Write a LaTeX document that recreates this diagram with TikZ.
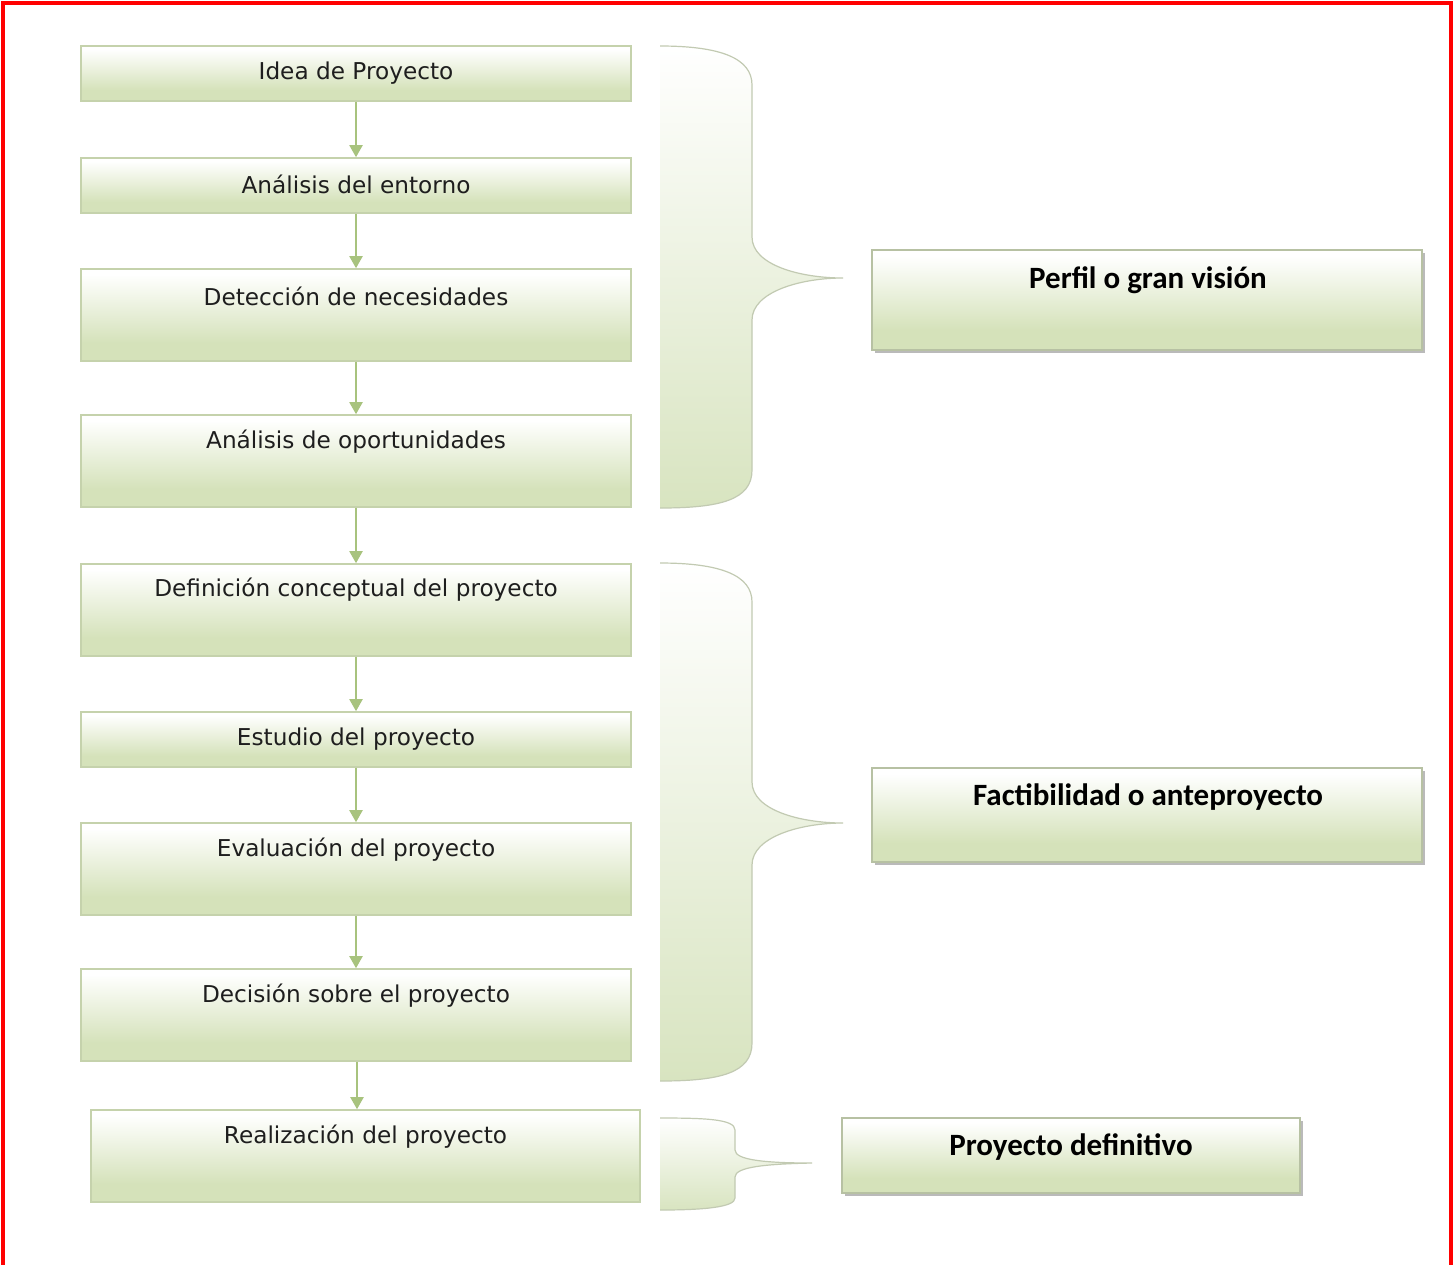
\documentclass[tikz,border=0pt]{standalone}
\usepackage{fontspec}
\setmainfont{DejaVu Sans}
\newfontfamily\titlefont{Carlito}
\usetikzlibrary{arrows.meta,shadows}
\definecolor{gB}{HTML}{D5E2BA}
\definecolor{gBorder}{HTML}{C5D2AC}
\definecolor{gArrow}{HTML}{A8C37E}
\definecolor{braceG}{HTML}{D8E4C0}
\definecolor{braceLine}{HTML}{C2CAB2}
\definecolor{txt}{HTML}{1E1E1E}
\pgfdeclareverticalshading{boxshade}{100bp}{color(0bp)=(gB); color(35bp)=(gB); color(72bp)=(white); color(100bp)=(white)}
\tikzset{
  stepbox/.style={draw=gBorder, line width=0.8pt, shading=boxshade, rectangle, inner sep=0pt},
  sidebox/.style={stepbox, draw=gBorder!80!gray, drop shadow={shadow xshift=1.6pt, shadow yshift=-1.6pt, fill=black!45, opacity=0.6}},
  lbl/.style={font=\fontsize{11.6}{13}\selectfont, text=txt, inner sep=0pt},
  tlbl/.style={font=\titlefont\bfseries\fontsize{15.5}{17}\selectfont, text=black, inner sep=0pt},
  flow/.style={gArrow, line width=1pt, -{Triangle[length=6pt,width=6.5pt]}},
  bracefill/.style={top color=white, bottom color=braceG, draw=braceLine, line width=0.6pt},
}
\begin{document}
\begin{tikzpicture}[x=0.5pt,y=-0.5pt]
\useasboundingbox (0,0) rectangle (1454,1264);
\fill[white] (0,0) rectangle (1454,1264);
\draw[red, line width=1.6pt] (3,1270) -- (3,3) -- (1451,3) -- (1451,1270);

% left column boxes
\node[stepbox, minimum width=275pt, minimum height=27.5pt] (b1) at (356,73.5) {};
\node[lbl] (t1) at (356,73) {Idea de Proyecto};
\node[stepbox, minimum width=275pt, minimum height=27.5pt] (b2) at (356,185.5) {};
\node[lbl] (t2) at (356,184) {Análisis del entorno};
\node[stepbox, minimum width=275pt, minimum height=46pt] (b3) at (356,315) {};
\node[lbl] (t3) at (356,296) {Detección de necesidades};
\node[stepbox, minimum width=275pt, minimum height=46pt] (b4) at (356,461) {};
\node[lbl] (t4) at (356,442) {Análisis de oportunidades};
\node[stepbox, minimum width=275pt, minimum height=46pt] (b5) at (356,610) {};
\node[lbl] (t5) at (356,590) {Definición conceptual del proyecto};
\node[stepbox, minimum width=275pt, minimum height=27.5pt] (b6) at (356,739.5) {};
\node[lbl] (t6) at (356,739) {Estudio del proyecto};
\node[stepbox, minimum width=275pt, minimum height=46pt] (b7) at (356,869) {};
\node[lbl] (t7) at (356,850) {Evaluación del proyecto};
\node[stepbox, minimum width=275pt, minimum height=46pt] (b8) at (356,1015) {};
\node[lbl] (t8) at (356,996) {Decisión sobre el proyecto};
\node[stepbox, minimum width=274.5pt, minimum height=46pt] (b9) at (365.5,1156) {};
\node[lbl] (t9) at (365.5,1137) {Realización del proyecto};

% arrows
\draw[flow] (b1.south) -- (b2.north);
\draw[flow] (b2.south) -- (b3.north);
\draw[flow] (b3.south) -- (b4.north);
\draw[flow] (b4.south) -- (b5.north);
\draw[flow] (b5.south) -- (b6.north);
\draw[flow] (b6.south) -- (b7.north);
\draw[flow] (b7.south) -- (b8.north);
\draw[flow] ([xshift=0.5pt]b8.south) -- ([xshift=0.5pt]b8.south |- b9.north);

% braces
\path[bracefill] (660,46) .. controls (720,46) and (752,58) .. (752,85)
  -- (752,237) .. controls (752,265) and (800,278) .. (843,278)
  .. controls (800,278) and (752,292) .. (752,320)
  -- (752,470) .. controls (752,500) and (720,508) .. (660,508);
\path[bracefill] (660,563) .. controls (720,563) and (752,575) .. (752,602)
  -- (752,782) .. controls (752,810) and (800,823) .. (843,823)
  .. controls (800,823) and (752,837) .. (752,865)
  -- (752,1043) .. controls (752,1073) and (720,1081) .. (660,1081);
\path[bracefill] (660,1118) .. controls (705,1118) and (735,1119) .. (735,1130)
  -- (735,1150) .. controls (735,1160) and (765,1163) .. (812,1163)
  .. controls (765,1164) and (735,1167) .. (735,1177)
  -- (735,1198) .. controls (735,1207) and (705,1210) .. (660,1210);

% right boxes
\node[sidebox, minimum width=275pt, minimum height=50pt] (r1) at (1147,300) {};
\node[tlbl] (s1) at (1148,280) {Perfil o gran visión};
\node[sidebox, minimum width=275pt, minimum height=47pt] (r2) at (1147,815) {};
\node[tlbl] (s2) at (1148,797) {Factibilidad o anteproyecto};
\node[sidebox, minimum width=229pt, minimum height=37.5pt] (r3) at (1071,1155.5) {};
\node[tlbl] (s3) at (1071,1147) {Proyecto definitivo};
\end{tikzpicture}
\end{document}
